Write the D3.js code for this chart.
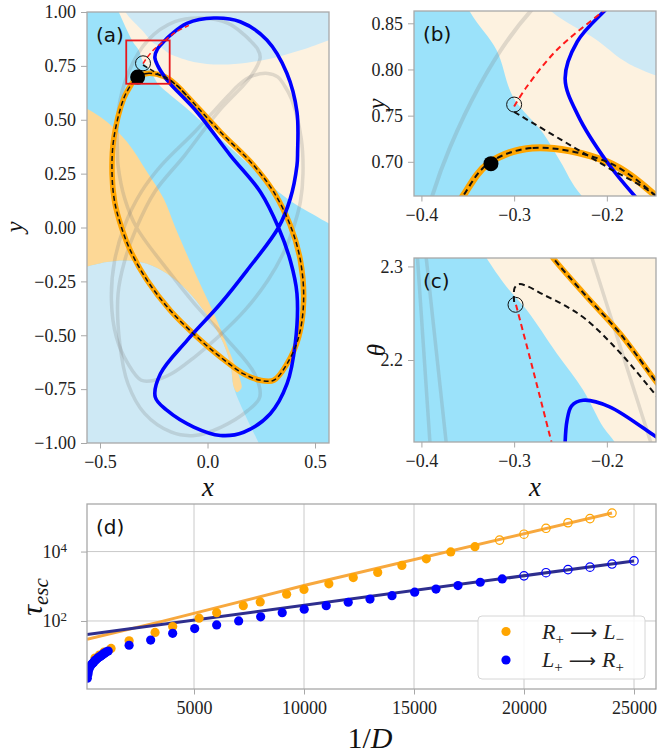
<!DOCTYPE html>
<html>
<head>
<meta charset="utf-8">
<script src="https://cdn.jsdelivr.net/npm/d3@7"></script>
<style>
body { margin: 0; background: #fff; }
</style>
</head>
<body>
<svg id="fig" width="659" height="755" font-family="'Liberation Serif', 'DejaVu Serif', serif"></svg>
<script>

// ---------- panels (a)-(c): orbits in (x, y) and (x, theta) ----------

const blueLoop = [
  [-0.245, 0.79], [-0.232, 0.83], [-0.2, 0.866], [-0.17, 0.895], [-0.096, 0.947], [0.029, 0.972],
  [0.152, 0.955], [0.276, 0.87], [0.369, 0.716], [0.416, 0.536], [0.419, 0.35], [0.416, 0.288],
  [0.385, 0.134], [0.33, 0.0], [0.184, -0.199], [0.06, -0.354], [-0.095, -0.524], [-0.219, -0.679],
  [-0.243, -0.787], [-0.188, -0.849], [-0.064, -0.926], [0.06, -0.965], [0.168, -0.95], [0.292, -0.864],
  [0.37, -0.725], [0.408, -0.539], [0.416, -0.307], [0.385, -0.153], [0.33, 0.0], [0.246, 0.165],
  [0.106, 0.335], [-0.049, 0.536], [-0.17, 0.663], [-0.2, 0.70], [-0.231, 0.75]
]

const orangeLoop = [
  [-0.328, 0.698], [-0.28, 0.715], [-0.2, 0.70], [-0.147, 0.663], [-0.095, 0.61], [0.06, 0.443],
  [0.215, 0.288], [0.308, 0.165], [0.385, 0.01], [0.432, -0.153], [0.447, -0.338], [0.424, -0.508],
  [0.37, -0.632], [0.308, -0.709], [0.246, -0.709], [0.168, -0.679], [0.06, -0.601], [-0.049, -0.508],
  [-0.173, -0.385], [-0.281, -0.245], [-0.359, -0.106], [-0.40, 0.0], [-0.432, 0.12], [-0.444, 0.25],
  [-0.436, 0.412], [-0.39, 0.598], [-0.355, 0.663]
]

const blackBranch = [[-0.3, 0.754], [-0.25, 0.7243], [-0.2, 0.6945], [-0.147, 0.663], [-0.095, 0.61]]
const redBranch = [[-0.3, 0.76], [-0.2866, 0.781], [-0.254, 0.821], [-0.204, 0.863], [-0.15, 0.905], [-0.087, 0.938]]

const saddle = [-0.3, 0.762]
const startPoint = [-0.325, 0.698]
const zoomBox = { x: [-0.378, -0.176], y: [0.667, 0.868] }

// basins (a) and (b)
const creamEdge = [
  [-0.435, 1.05], [-0.413, 1.0], [-0.348, 0.863], [-0.319, 0.821], [-0.301, 0.77], [-0.2687, 0.731],
  [-0.25, 0.70], [-0.227, 0.663], [-0.095, 0.551], [0.06, 0.412], [0.215, 0.273], [0.37, 0.134],
  [0.525, 0.041], [0.6, 0.0]
]
const creamClose = [[0.62, -0.02], [0.62, 1.05]]

const paleTopEdge = [
  [-0.40, 1.05], [-0.382, 1.0], [-0.297, 0.907], [-0.26, 0.863], [-0.211, 0.832], [-0.1825, 0.81],
  [-0.161, 0.799], [-0.064, 0.768], [0.06, 0.756], [0.184, 0.765], [0.308, 0.787], [0.432, 0.822],
  [0.565, 0.869], [0.62, 0.89]
]
const paleTopClose = [[0.62, 1.05]]

const paleLowEdge = [
  [-0.58, -0.186], [-0.467, -0.16], [-0.374, -0.153], [-0.281, -0.168], [-0.188, -0.215], [-0.095, -0.292],
  [-0.018, -0.385], [0.06, -0.508], [0.106, -0.632], [0.122, -0.74], [0.18, -0.88], [0.238, -1.0], [0.25, -1.03]
]
const paleLowClose = [[-0.58, -1.03]]

const orangeWedge = [
  [-0.58, 0.56], [-0.5605, 0.551], [-0.467, 0.49], [-0.374, 0.397], [-0.281, 0.258], [-0.204, 0.134],
  [-0.15, 0.0], [-0.049, -0.23], [0.044, -0.431], [0.106, -0.586], [0.153, -0.71], [0.158, -0.745],
  [0.137, -0.764], [0.122, -0.74], [0.106, -0.632], [0.06, -0.508], [-0.018, -0.385], [-0.095, -0.292],
  [-0.188, -0.215], [-0.281, -0.168], [-0.374, -0.153], [-0.467, -0.16], [-0.58, -0.186]
]

// panel (c): x versus theta
const orangeC = [[-0.262, 2.315], [-0.258, 2.309], [-0.222, 2.268], [-0.186, 2.2286], [-0.147, 2.177], [-0.14, 2.168]]
const blackC = [
  [-0.3, 2.262], [-0.2995, 2.277], [-0.295, 2.281], [-0.286, 2.279], [-0.2687, 2.27], [-0.245, 2.258],
  [-0.222, 2.243], [-0.185, 2.207], [-0.147, 2.1625], [-0.14, 2.155]
]
const redC = [[-0.298, 2.259], [-0.2795, 2.189], [-0.2597, 2.112], [-0.258, 2.105]]
const blueC = [[-0.245, 2.10], [-0.245, 2.112], [-0.243, 2.135], [-0.238, 2.151], [-0.2256, 2.157], [-0.197, 2.150], [-0.147, 2.118], [-0.14, 2.114]]
const grayC = [
  [[-0.405, 2.32], [-0.39, 2.10]],
  [[-0.396, 2.32], [-0.372, 2.10]],
  [[-0.218, 2.315], [-0.152, 2.11]]
]
const saddleC = [-0.2985, 2.259]
const creamEdgeC = [
  [-0.336, 2.32], [-0.3298, 2.309], [-0.308, 2.278], [-0.2866, 2.2536], [-0.254, 2.207], [-0.2256, 2.168],
  [-0.204, 2.1285], [-0.1914, 2.112], [-0.186, 2.10]
]
const creamCloseC = [[-0.1, 2.10], [-0.1, 2.32]]

// ---------- panel (d): escape times, log10(tau) ----------

const orangeFilled = [
  [500, 0.93], [700, 1.02], [900, 1.10], [1230, 1.21], [2050, 1.43], [3230, 1.67], [4030, 1.84], [5230, 2.08],
  [6030, 2.24], [7240, 2.44], [8010, 2.55], [9210, 2.77], [10000, 2.91], [11130, 3.07], [12240, 3.25],
  [13350, 3.40], [14450, 3.60], [15560, 3.79], [16670, 3.99], [17770, 4.14]
]
const orangeOpen = [[18890, 4.33], [20000, 4.50], [21000, 4.67], [22000, 4.83], [23000, 4.95], [24000, 5.11]]

const blueFilled = [
  [150, 0.35], [175, 0.46], [195, 0.54], [230, 0.62], [270, 0.68], [330, 0.74], [395, 0.78], [450, 0.82],
  [500, 0.86], [560, 0.89], [620, 0.93], [690, 0.96], [760, 0.99], [820, 1.02], [880, 1.05], [940, 1.075],
  [1000, 1.10], [1100, 1.135], [2050, 1.30], [3030, 1.45], [4030, 1.645], [5030, 1.78], [6030, 1.885],
  [7030, 2.0], [8030, 2.12], [9010, 2.24], [10010, 2.34], [11010, 2.44], [12010, 2.54], [13000, 2.63],
  [14000, 2.73], [15030, 2.83], [16000, 2.92], [17000, 3.02], [18010, 3.115], [19010, 3.21]
]
const blueOpen = [[20000, 3.30], [21000, 3.39], [22000, 3.48], [23000, 3.55], [24000, 3.64], [25000, 3.73]]

const orangeFit = [[136, 1.47], [3500, 1.98], [10000, 3.02], [24000, 5.11]]
const blueFit = [[136, 1.61], [25000, 3.73]]

const xTicksA = [-0.5, 0, 0.5]
const yTicksA = [-1, -0.75, -0.5, -0.25, 0, 0.25, 0.5, 0.75, 1]
const xTicksBC = [-0.4, -0.3, -0.2]
const yTicksB = [0.70, 0.75, 0.80, 0.85]
const yTicksC = [2.2, 2.3]
const xTicksD = [5000, 10000, 15000, 20000, 25000]
const yTicksD = [100, 10000]

const legendItems = [
  { color: '#ffa500', from: ['R', '+'], to: ['L', '−'] },
  { color: '#0000ff', from: ['L', '+'], to: ['R', '+'] }
]

// ---------- colours ----------
const cCyan = '#9be2fa'
const cPale = '#cee9f5'
const cOrangeBg = '#fdd896'
const cCream = '#fdf2e0'
const cBlue = '#0000ff'
const cOrange = '#ffa500'
const cGray = 'rgba(120,120,120,0.22)'
const cSpine = '#a8a8a8'

const svg = d3.select('#fig')

const xA = d3.scaleLinear().domain([-0.5605, 0.565]).range([87, 329])
const yA = d3.scaleLinear().domain([-1, 1]).range([443, 12])
const xB = d3.scaleLinear().domain([-0.408, -0.147]).range([414, 656])
const yB = d3.scaleLinear().domain([0.663, 0.8633]).range([196, 11])
const xC = xB.copy()
const yC = d3.scaleLinear().domain([2.1124, 2.309]).range([442, 258])
const xD = d3.scaleLinear().domain([136, 26000]).range([87, 656])
const yD = d3.scaleLog().domain([Math.pow(10, 0.04), Math.pow(10, 5.37)]).range([689, 504])

const makePanel = (id, x, y) => {
  const [x0, x1] = x.range()
  const [y1, y0] = y.range()
  svg.append('clipPath').attr('id', id)
    .append('rect').attr('x', x0).attr('y', y0).attr('width', x1 - x0).attr('height', y1 - y0)
  const g = svg.append('g')
  const inner = g.append('g').attr('clip-path', `url(#${id})`)
  inner.append('rect').attr('x', x0).attr('y', y0).attr('width', x1 - x0).attr('height', y1 - y0)
    .attr('fill', cCyan)
  return { g, inner, x, y, box: [x0, x1, y0, y1] }
}

const lineOf = (p, curve, mirror) => d3.line()
  .x(d => p.x(mirror ? -d[0] : d[0]))
  .y(d => p.y(d[1]))
  .curve(curve || d3.curveCatmullRom.alpha(0.5))

const region = (p, edge, close, fill) => {
  const d = lineOf(p)(edge) + close.map(c => `L${p.x(c[0])},${p.y(c[1])}`).join('') + 'Z'
  p.inner.append('path').attr('d', d).attr('fill', fill)
}

const stroke = (p, pts, opts) => {
  p.inner.append('path')
    .attr('d', lineOf(p, opts.closed ? d3.curveCatmullRomClosed.alpha(0.5) : null, opts.mirror)(pts))
    .attr('fill', 'none')
    .attr('stroke', opts.color)
    .attr('stroke-width', opts.width)
    .attr('stroke-dasharray', opts.dash || null)
    .attr('stroke-linecap', opts.dash ? 'butt' : 'round')
}

const styleAxis = (sel, size) => {
  sel.select('.domain').remove()
  sel.attr('font-family', null).attr('font-size', null)
  sel.selectAll('.tick line').attr('stroke', cSpine).attr('stroke-width', 1)
  sel.selectAll('.tick text')
    .attr('font-size', size || 18)
    .attr('fill', '#222')
}

const frame = p => {
  const [x0, x1, y0, y1] = p.box
  p.g.append('rect').attr('x', x0).attr('y', y0).attr('width', x1 - x0).attr('height', y1 - y0)
    .attr('fill', 'none').attr('stroke', cSpine).attr('stroke-width', 1.3)
}

const axes = (p, xt, yt, xf, yf) => {
  const [x0, x1, y0, y1] = p.box
  p.g.append('g').attr('transform', `translate(0,${y1})`)
    .call(d3.axisBottom(p.x).tickValues(xt).tickFormat(xf).tickSize(5.5).tickPadding(7))
    .call(styleAxis)
  p.g.append('g').attr('transform', `translate(${x0},0)`)
    .call(d3.axisLeft(p.y).tickValues(yt).tickFormat(yf).tickSize(6).tickPadding(5))
    .call(styleAxis)
}

const panelTag = (p, label) => {
  const [x0, , y0] = p.box
  p.g.append('text').attr('x', x0 + 9).attr('y', y0 + 30)
    .attr('font-family', "'DejaVu Sans', sans-serif").attr('font-size', 20).attr('fill', '#111')
    .text(label)
}

const axisLabel = (x, y, txt, rotate, size) => {
  svg.append('text')
    .attr('transform', `translate(${x},${y})` + (rotate ? ' rotate(-90)' : ''))
    .attr('text-anchor', 'middle')
    .attr('font-style', 'italic')
    .attr('font-size', size || 27)
    .attr('fill', '#111')
    .text(txt)
}

// ---------- (a) ----------
const pa = makePanel('clipA', xA, yA)
region(pa, creamEdge, creamClose, cCream)
region(pa, paleTopEdge, paleTopClose, cPale)
region(pa, paleLowEdge, paleLowClose, cPale)
pa.inner.append('path').attr('d', lineOf(pa)(orangeWedge) + 'Z').attr('fill', cOrangeBg)

// the grey orbits are the x -> -x images of the two coloured ones
stroke(pa, blueLoop, { closed: true, mirror: true, color: cGray, width: 3.5 })
stroke(pa, orangeLoop, { closed: true, mirror: true, color: cGray, width: 3.5 })
stroke(pa, orangeLoop, { closed: true, color: cOrange, width: 5.5 })
stroke(pa, blueLoop, { closed: true, color: cBlue, width: 3.6 })
stroke(pa, orangeLoop, { closed: true, color: '#111', width: 1.5, dash: '5,3' })
stroke(pa, blackBranch, { color: '#111', width: 1.5, dash: '5,3' })
stroke(pa, redBranch, { color: '#ff1a1a', width: 1.5, dash: '5,3' })

pa.inner.append('circle').attr('cx', xA(saddle[0])).attr('cy', yA(saddle[1])).attr('r', 7.5)
  .attr('fill', 'none').attr('stroke', '#111').attr('stroke-width', 1)
pa.inner.append('circle').attr('cx', xA(startPoint[0])).attr('cy', yA(startPoint[1])).attr('r', 7.5)
  .attr('fill', '#000')
pa.inner.append('rect')
  .attr('x', xA(zoomBox.x[0])).attr('y', yA(zoomBox.y[1]))
  .attr('width', xA(zoomBox.x[1]) - xA(zoomBox.x[0])).attr('height', yA(zoomBox.y[0]) - yA(zoomBox.y[1]))
  .attr('fill', 'none').attr('stroke', '#e8161b').attr('stroke-width', 1.8)

frame(pa)
axes(pa, xTicksA, yTicksA, d3.format('.1f'), d3.format('.2f'))
panelTag(pa, '(a)')

// ---------- (b) ----------
const pb = makePanel('clipB', xB, yB)
region(pb, creamEdge, creamClose, cCream)
region(pb, paleTopEdge, paleTopClose, cPale)
stroke(pb, blueLoop, { closed: true, mirror: true, color: cGray, width: 4 })
stroke(pb, orangeLoop, { closed: true, color: cOrange, width: 7 })
stroke(pb, blueLoop, { closed: true, color: cBlue, width: 3.6 })
stroke(pb, orangeLoop, { closed: true, color: '#111', width: 2, dash: '6,4' })
stroke(pb, blackBranch, { color: '#111', width: 2, dash: '6,4' })
stroke(pb, redBranch, { color: '#ff1a1a', width: 2, dash: '6,4' })
pb.inner.append('circle').attr('cx', xB(saddle[0])).attr('cy', yB(saddle[1])).attr('r', 7.5)
  .attr('fill', 'none').attr('stroke', '#111').attr('stroke-width', 1)
pb.inner.append('circle').attr('cx', xB(startPoint[0])).attr('cy', yB(startPoint[1])).attr('r', 7.5)
  .attr('fill', '#000')
frame(pb)
axes(pb, xTicksBC, yTicksB, d3.format('.1f'), d3.format('.2f'))
panelTag(pb, '(b)')

// ---------- (c) ----------
const pc = makePanel('clipC', xC, yC)
region(pc, creamEdgeC, creamCloseC, cCream)
grayC.forEach(l => stroke(pc, l, { color: cGray, width: 3.5 }))
stroke(pc, orangeC, { color: cOrange, width: 5.5 })
stroke(pc, blueC, { color: cBlue, width: 3.6 })
stroke(pc, orangeC, { color: '#111', width: 2, dash: '6,4' })
stroke(pc, blackC, { color: '#111', width: 2, dash: '6,4' })
stroke(pc, redC, { color: '#ff1a1a', width: 2, dash: '6,4' })
pc.inner.append('circle').attr('cx', xC(saddleC[0])).attr('cy', yC(saddleC[1])).attr('r', 7.5)
  .attr('fill', 'none').attr('stroke', '#111').attr('stroke-width', 1)
frame(pc)
axes(pc, xTicksBC, yTicksC, d3.format('.1f'), d3.format('.1f'))
panelTag(pc, '(c)')

axisLabel(23, 227, 'y', true, 25)
axisLabel(208, 496, 'x', false, 27)
axisLabel(385, 104, 'y', true, 25)
axisLabel(385, 350, 'θ', true, 25)
axisLabel(535, 496, 'x', false, 27)

// ---------- (d) ----------
const pd = {
  g: svg.append('g'),
  x: xD, y: yD,
  box: [87, 656, 504, 689]
}
svg.append('clipPath').attr('id', 'clipD')
  .append('rect').attr('x', 87).attr('y', 504).attr('width', 569).attr('height', 185)
pd.inner = pd.g.append('g').attr('clip-path', 'url(#clipD)')

pd.inner.selectAll('.vgrid').data(xTicksD).enter().append('line')
  .attr('x1', d => xD(d)).attr('x2', d => xD(d)).attr('y1', 504).attr('y2', 689)
  .attr('stroke', '#c4c4c4').attr('stroke-width', 0.9)
pd.inner.selectAll('.hgrid').data(yTicksD).enter().append('line')
  .attr('x1', 87).attr('x2', 656).attr('y1', d => yD(d)).attr('y2', d => yD(d))
  .attr('stroke', '#c4c4c4').attr('stroke-width', 0.9)

const fitLine = d3.line().x(d => xD(d[0])).y(d => yD(Math.pow(10, d[1])))
pd.inner.append('path').attr('d', fitLine(orangeFit)).attr('fill', 'none')
  .attr('stroke', '#f7a83e').attr('stroke-width', 3)
pd.inner.append('path').attr('d', fitLine(blueFit)).attr('fill', 'none')
  .attr('stroke', '#2e2e8e').attr('stroke-width', 3)

const dots = (data, color, filled) => {
  pd.inner.append('g').selectAll('circle').data(data).enter().append('circle')
    .attr('cx', d => xD(d[0]))
    .attr('cy', d => yD(Math.pow(10, d[1])))
    .attr('r', filled ? 4.6 : 4.2)
    .attr('fill', filled ? color : 'none')
    .attr('stroke', filled ? 'none' : color)
    .attr('stroke-width', 1.2)
}
dots(orangeFilled, cOrange, true)
dots(orangeOpen, cOrange, false)
dots(blueFilled, cBlue, true)
dots(blueOpen, cBlue, false)

frame(pd)
pd.g.append('g').attr('transform', 'translate(0,689)')
  .call(d3.axisBottom(xD).tickValues(xTicksD).tickFormat(d3.format('d')).tickSize(5.5).tickPadding(7))
  .call(styleAxis)
const yAxisD = pd.g.append('g').attr('transform', 'translate(87,0)')
  .call(d3.axisLeft(yD).tickValues(yTicksD).tickFormat(() => '').tickSize(6).tickPadding(14))
  .call(styleAxis)
yAxisD.selectAll('.tick text').each(function(d) {
  const t = d3.select(this)
  t.append('tspan').text('10')
  t.append('tspan').attr('dy', '-0.45em').attr('font-size', 13).text(Math.round(Math.log10(d)))
})

panelTag(pd, '(d)')

// legend
const lg = pd.g.append('g')
lg.append('rect').attr('x', 478).attr('y', 616).attr('width', 167).attr('height', 63).attr('rx', 4)
  .attr('fill', 'rgba(255,255,255,0.85)').attr('stroke', '#d6d6d6')
legendItems.forEach((item, i) => {
  const cy = 631.5 + i * 28.5
  lg.append('circle').attr('cx', 506).attr('cy', cy).attr('r', 4.6).attr('fill', item.color)
  const t = lg.append('text').attr('x', 542).attr('y', cy + 7).attr('font-size', 22).attr('fill', '#222')
  t.append('tspan').attr('font-style', 'italic').text(item.from[0])
  t.append('tspan').attr('dy', 5).attr('font-size', 15).text(item.from[1])
  t.append('tspan').attr('dy', -5).attr('font-family', "'DejaVu Sans', sans-serif").attr('font-size', 19).text(' ⟶ ')
  t.append('tspan').attr('font-style', 'italic').text(item.to[0])
  t.append('tspan').attr('dy', 5).attr('font-size', 15).text(item.to[1])
})

// axis labels of (d)
const tauLabel = svg.append('text')
  .attr('transform', 'translate(42,597) rotate(-90)')
  .attr('text-anchor', 'middle').attr('font-style', 'italic').attr('font-size', 30).attr('fill', '#111')
tauLabel.append('tspan').text('τ')
tauLabel.append('tspan').attr('dy', 6).attr('font-size', 21).text('esc')

const dLabel = svg.append('text').attr('x', 370).attr('y', 748).attr('text-anchor', 'middle')
  .attr('font-size', 30).attr('fill', '#111')
dLabel.append('tspan').text('1/')
dLabel.append('tspan').attr('font-style', 'italic').text('D')

</script>
</body>
</html>
